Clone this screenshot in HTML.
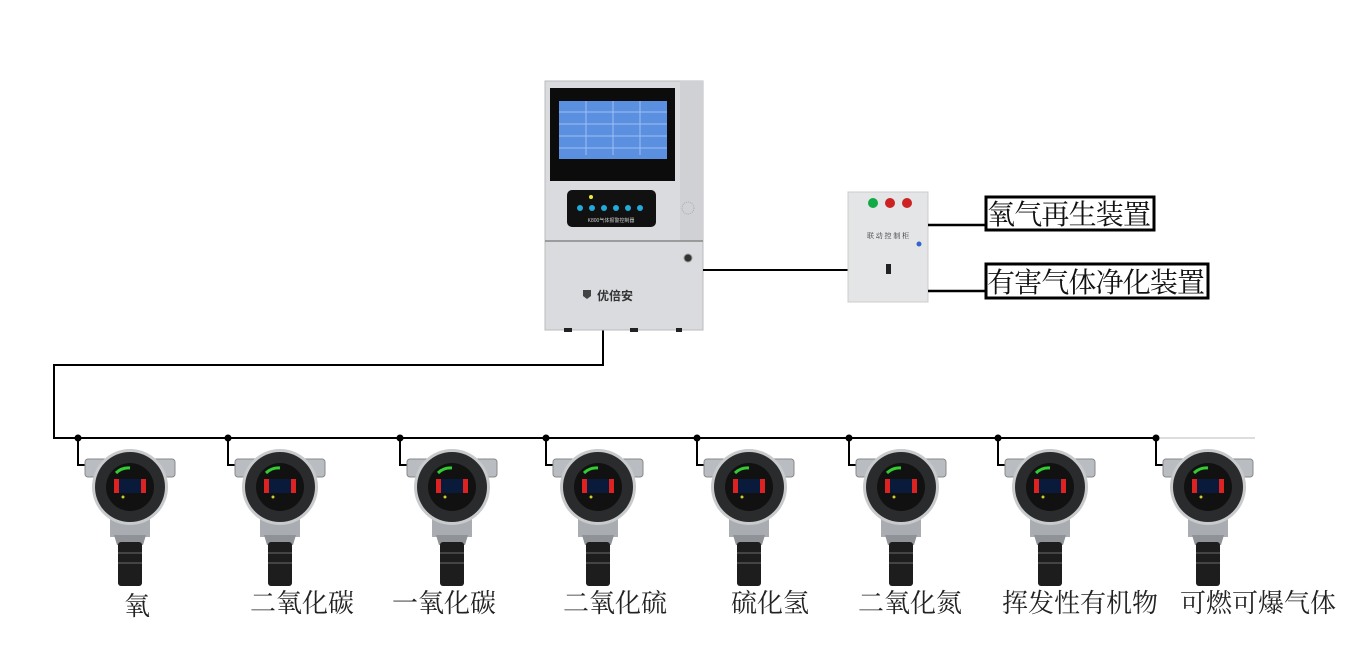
<!DOCTYPE html>
<html><head><meta charset="utf-8"><style>
body{margin:0;background:#fff;}
svg{display:block;}
.lb{font-family:"Liberation Serif","Noto Serif CJK SC",serif;font-size:26px;fill:#222;}
.bx{font-family:"Liberation Serif","Noto Serif CJK SC",serif;font-size:28px;fill:#111;}
</style></head><body>
<svg width="1365" height="654" viewBox="0 0 1365 654" xmlns="http://www.w3.org/2000/svg">
<defs>
<g id="det">
  <rect x="-45" y="-28" width="90" height="18" rx="3" fill="#b9bcc0" stroke="#888"/>
  <rect x="-20" y="28" width="40" height="22" fill="#a9adb1"/>
  <path d="M-16 48 L16 48 L13 58 L-13 58 Z" fill="#8f9397"/>
  <rect x="-12" y="55" width="24" height="44" rx="3" fill="#1d1d1d"/>
  <rect x="-12" y="65" width="24" height="2" fill="#444"/>
  <rect x="-12" y="75" width="24" height="2" fill="#444"/>
  <circle r="38" fill="#c8cacc"/>
  <circle r="35" fill="#2a2b2d"/>
  <circle r="24" fill="#111"/>
  <rect x="-13" y="-8" width="26" height="14" fill="#0a1a3a"/>
  <rect x="-16" y="-8" width="5" height="14" fill="#d22"/>
  <rect x="11" y="-8" width="5" height="14" fill="#d22"/>
  <path d="M-14 -14 A18 18 0 0 1 0 -19" stroke="#3c3" stroke-width="3" fill="none"/>
  <circle cx="-7" cy="10" r="1.5" fill="#cc3"/>
</g>
</defs>
<g stroke="#000" stroke-width="2" fill="none">
  <polyline points="603,330 603,365 54,365 54,438 1158,438"/>
</g>
<line x1="1158" y1="438" x2="1255" y2="438" stroke="#ddd" stroke-width="2"/>
<g stroke="#000" stroke-width="2" fill="none">
  <polyline points="78,438 78,465 95,465"/>
  <polyline points="228,438 228,465 245,465"/>
  <polyline points="400,438 400,465 417,465"/>
  <polyline points="546,438 546,465 563,465"/>
  <polyline points="697,438 697,465 714,465"/>
  <polyline points="849,438 849,465 866,465"/>
  <polyline points="998,438 998,465 1015,465"/>
  <polyline points="1156,438 1156,465 1173,465"/>
</g>
<g fill="#000">
  <circle cx="78" cy="438" r="3.5"/><circle cx="228" cy="438" r="3.5"/>
  <circle cx="400" cy="438" r="3.5"/><circle cx="546" cy="438" r="3.5"/>
  <circle cx="697" cy="438" r="3.5"/><circle cx="849" cy="438" r="3.5"/>
  <circle cx="998" cy="438" r="3.5"/><circle cx="1156" cy="438" r="3.5"/>
</g>
<use href="#det" x="130" y="487"/>
<use href="#det" x="280" y="487"/>
<use href="#det" x="452" y="487"/>
<use href="#det" x="598" y="487"/>
<use href="#det" x="749" y="487"/>
<use href="#det" x="901" y="487"/>
<use href="#det" x="1050" y="487"/>
<use href="#det" x="1208" y="487"/>
<text class="lb" x="137" y="615" text-anchor="middle">氧</text>
<text class="lb" x="302" y="612" text-anchor="middle">二氧化碳</text>
<text class="lb" x="444" y="612" text-anchor="middle">一氧化碳</text>
<text class="lb" x="615" y="612" text-anchor="middle">二氧化硫</text>
<text class="lb" x="770" y="612" text-anchor="middle">硫化氢</text>
<text class="lb" x="910" y="612" text-anchor="middle">二氧化氮</text>
<text class="lb" x="1080" y="612" text-anchor="middle">挥发性有机物</text>
<text class="lb" x="1258" y="612" text-anchor="middle">可燃可爆气体</text>
<rect x="545" y="81" width="158" height="249" fill="#d9dbde" stroke="#bbb"/>
<rect x="680" y="81" width="23" height="160" fill="#cfd1d4"/>
<rect x="550" y="88" width="125" height="93" fill="#0c0c0c"/>
<rect x="559" y="101" width="108" height="58" fill="#5b8fe0"/>
<g stroke="#9cc0f5" stroke-width="1">
  <line x1="559" y1="112" x2="667" y2="112"/><line x1="559" y1="124" x2="667" y2="124"/>
  <line x1="559" y1="136" x2="667" y2="136"/><line x1="559" y1="148" x2="667" y2="148"/>
  <line x1="586" y1="101" x2="586" y2="155"/><line x1="613" y1="101" x2="613" y2="155"/><line x1="640" y1="101" x2="640" y2="155"/>
</g>
<rect x="567" y="190" width="89" height="37" rx="5" fill="#111"/>
<g fill="#2ad"><circle cx="580" cy="208" r="3"/><circle cx="592" cy="208" r="3"/><circle cx="604" cy="208" r="3"/><circle cx="616" cy="208" r="3"/><circle cx="628" cy="208" r="3"/><circle cx="640" cy="208" r="3"/></g>
<circle cx="591" cy="197" r="2" fill="#ee3"/>
<text x="611" y="222" font-size="5" fill="#ccc" text-anchor="middle" font-family="Liberation Sans,Noto Sans CJK SC,sans-serif">K800气体报警控制器</text>
<circle cx="688" cy="208" r="6" fill="none" stroke="#aaa" stroke-dasharray="1,1"/>
<line x1="545" y1="241" x2="703" y2="241" stroke="#888" stroke-width="1.5"/>
<circle cx="688" cy="258" r="4" fill="#333" stroke="#999"/>
<path d="M583 290 h8 v6 l-4 3 l-4 -3 z" fill="#444"/>
<text x="597" y="300" font-size="12" font-weight="bold" fill="#333" font-family="Liberation Sans,Noto Sans CJK SC,sans-serif">优倍安</text>
<g fill="#222"><rect x="564" y="328" width="8" height="4"/><rect x="630" y="328" width="8" height="4"/><rect x="676" y="328" width="6" height="4"/></g>
<line x1="703" y1="270" x2="850" y2="270" stroke="#000" stroke-width="2"/>
<rect x="848" y="192" width="80" height="110" fill="#e4e5e6" stroke="#ccc"/>
<circle cx="873" cy="203" r="5" fill="#1a4"/><circle cx="890" cy="203" r="5" fill="#c22"/><circle cx="907" cy="203" r="5" fill="#c22"/>
<text x="888" y="238" font-size="7" fill="#333" text-anchor="middle" font-family="Liberation Serif,Noto Serif CJK SC,serif">联 动 控 制 柜</text>
<circle cx="919" cy="244" r="2.5" fill="#36c"/>
<rect x="886" y="264" width="5" height="10" fill="#222"/>
<line x1="928" y1="225" x2="985" y2="225" stroke="#000" stroke-width="2.5"/>
<line x1="928" y1="291" x2="985" y2="291" stroke="#000" stroke-width="2.5"/>
<rect x="986" y="197" width="168" height="33" fill="#fff" stroke="#000" stroke-width="3"/>
<text class="bx" x="987" y="224" textLength="164">氧气再生装置</text>
<rect x="986" y="264" width="222" height="34" fill="#fff" stroke="#000" stroke-width="3"/>
<text class="bx" x="987" y="292" textLength="218">有害气体净化装置</text>
</svg>
</body></html>
